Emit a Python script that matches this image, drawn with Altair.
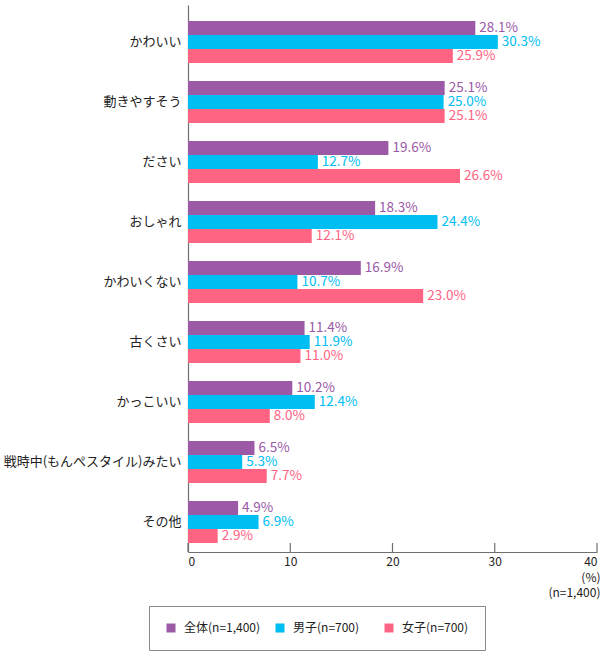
import altair as alt
import pandas as pd

# Impressions, share of respondents (%)
categories = [
    "かわいい",
    "動きやすそう",
    "ださい",
    "おしゃれ",
    "かわいくない",
    "古くさい",
    "かっこいい",
    "戦時中(もんぺスタイル)みたい",
    "その他",
]
series_names = ["全体(n=1,400)", "男子(n=700)", "女子(n=700)"]
total = [28.1, 25.1, 19.6, 18.3, 16.9, 11.4, 10.2, 6.5, 4.9]
boys = [30.3, 25.0, 12.7, 24.4, 10.7, 11.9, 12.4, 5.3, 6.9]
girls = [25.9, 25.1, 26.6, 12.1, 23.0, 11.0, 8.0, 7.7, 2.9]
tick_values = [0, 10, 20, 30, 40]

colors = ["#9b59a6", "#00bef2", "#ff6483"]
FONT = "Noto Sans CJK JP"

rows = []
for name, vals in zip(series_names, [total, boys, girls]):
    for cat, v in zip(categories, vals):
        rows.append({"category": cat, "series": name, "value": v})
df = pd.DataFrame(rows)
ticks_df = pd.DataFrame({"t": tick_values})

W, H = 409, 547

x_scale = alt.Scale(domain=[0, 40], nice=False, zero=True)
y_enc = alt.Y(
    "category:N",
    sort=categories,
    scale=alt.Scale(paddingInner=0.3, paddingOuter=0.2083, align=0.64),
    axis=alt.Axis(
        title=None,
        ticks=False,
        domainColor="#707070",
        domainWidth=1.2,
        labelFontSize=13,
        labelColor="#222222",
        labelPadding=7,
        labelFont=FONT,
    ),
)
yoff_enc = alt.YOffset(
    "series:N", sort=series_names, scale=alt.Scale(paddingInner=0, paddingOuter=0)
)
color_scale = alt.Scale(domain=series_names, range=colors)

bars = alt.Chart(df).mark_bar().encode(
    x=alt.X(
        "value:Q",
        scale=x_scale,
        axis=alt.Axis(
            values=tick_values,
            ticks=False,
            grid=False,
            domainColor="#707070",
            domainWidth=1.2,
            labelFlush=True,
            labelFontSize=12,
            labelColor="#222222",
            labelPadding=4,
            labelFont=FONT,
            title=["(%)", "(n=1,400)"],
            titleFont=FONT,
            titleFontSize=12,
            titleFontWeight="normal",
            titleColor="#222222",
            titleAnchor="end",
            titleAlign="right",
            titleBaseline="top",
            titleX=412,
            titleY=20,
            titleLineHeight=15,
        ),
    ),
    y=y_enc,
    yOffset=yoff_enc,
    color=alt.Color(
        "series:N",
        scale=color_scale,
        sort=series_names,
        legend=alt.Legend(
            title=None,
            orient="none",
            direction="horizontal",
            columns=3,
            gridAlign="all",
            legendX=-39,
            legendY=601,
            symbolType="square",
            symbolSize=81,
            symbolStrokeWidth=0,
            labelFontSize=12,
            labelColor="#222222",
            labelFont=FONT,
            labelOffset=7,
            columnPadding=13,
            strokeColor="#888888",
            padding=16,
        ),
    ),
)

labels = (
    alt.Chart(df)
    .transform_calculate(label="format(datum.value, '.1f') + '%'")
    .mark_text(align="left", baseline="middle", dx=4, fontSize=13.5, font=FONT)
    .encode(
        x=alt.X("value:Q", scale=x_scale),
        y=y_enc,
        yOffset=yoff_enc,
        text="label:N",
        color=alt.Color("series:N", scale=color_scale, legend=None),
    )
)

# inward-facing tick marks on the value axis
tick_marks = (
    alt.Chart(ticks_df)
    .mark_rule(color="#707070", strokeWidth=1.2)
    .encode(
        x=alt.X("t:Q", scale=x_scale),
        y=alt.value(H - 9),
        y2=alt.value(H),
    )
)

chart = (
    alt.layer(bars, labels, tick_marks)
    .properties(
        width=W,
        height=H,
        autosize=alt.AutoSizeParams(type="none"),
        padding={"left": 188, "top": 5, "right": 9, "bottom": 106},
    )
    .configure(font=FONT)
    .configure_view(stroke=None)
)

chart.save("out.html", embed_options={"renderer": "svg", "actions": False})
